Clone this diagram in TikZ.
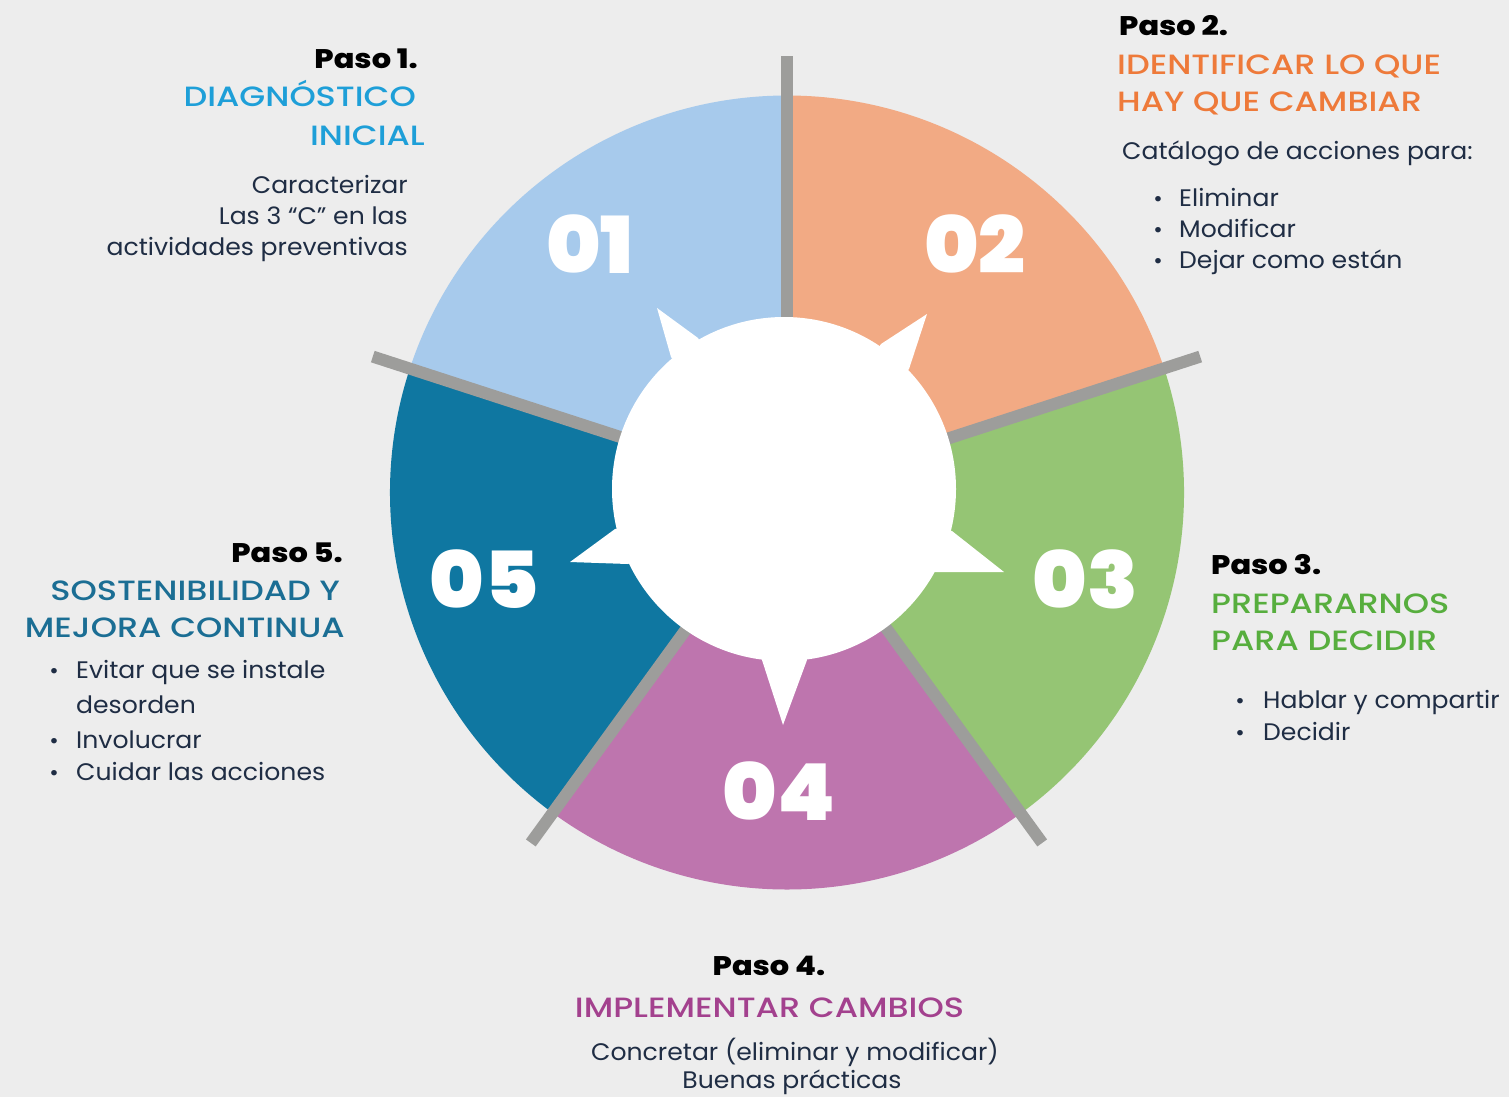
\documentclass[tikz,border=0pt]{standalone}
\usepackage{fontspec}
\setmainfont{Poppins}[FakeStretch=1.05]
\newfontfamily\numfont{Poppins}[UprightFont={* Black},FakeStretch=1.05]
\newfontfamily\pasofont{Poppins}[UprightFont={* ExtraBold},FakeStretch=1.13]
\newfontfamily\titlefont{Poppins}[UprightFont={* Medium},FakeStretch=1.2]
\usetikzlibrary{calc}
\definecolor{bgc}{HTML}{EDEDED}
\definecolor{s1}{HTML}{A7CAEC}
\definecolor{s2}{HTML}{F2AA84}
\definecolor{s3}{HTML}{95C574}
\definecolor{s4}{HTML}{BE75AE}
\definecolor{s5}{HTML}{0F77A1}
\definecolor{divc}{HTML}{9D9D9B}
\definecolor{t1}{HTML}{1E9FD8}
\definecolor{t2}{HTML}{EE7A3A}
\definecolor{t3}{HTML}{57AE3E}
\definecolor{t4}{HTML}{A3418E}
\definecolor{t5}{HTML}{1B6E94}
\definecolor{bodyc}{HTML}{1F2D44}
\begin{document}
\begin{tikzpicture}[x=1bp,y=-1bp,
  numtxt/.style={text=white,font=\numfont\fontsize{79}{79}\selectfont,inner sep=0pt,anchor=base},
  pasotxt/.style={text=black,font=\pasofont\fontsize{27}{27}\selectfont,inner sep=0pt},
  titletxt/.style={font=\titlefont\fontsize{28}{28}\selectfont,inner sep=0pt},
  bodytxt/.style={text=bodyc,font=\fontsize{24}{24}\selectfont,inner sep=0pt},
  bullettxt/.style={text=bodyc,font=\fontsize{22}{22}\selectfont,inner sep=0pt,anchor=base},
  divider/.style={draw=divc,line width=12bp}]
\fill[bgc] (0,0) rectangle (1509,1097);
\useasboundingbox (0,0) rectangle (1509,1097);
\coordinate (oc) at (787,492.5);
\coordinate (lc) at (786.5,491);
\coordinate (ic) at (784,489);
% sectors
\fill[s1] (oc) -- ($(oc)+(-90:397)$) arc[start angle=-90,end angle=-162,radius=397] -- cycle;
\fill[s2] (oc) -- ($(oc)+(-90:397)$) arc[start angle=-90,end angle=-18,radius=397] -- cycle;
\fill[s3] (oc) -- ($(oc)+(-18:397)$) arc[start angle=-18,end angle=54,radius=397] -- cycle;
\fill[s4] (oc) -- ($(oc)+(54:397)$) arc[start angle=54,end angle=126,radius=397] -- cycle;
\fill[s5] (oc) -- ($(oc)+(126:397)$) arc[start angle=126,end angle=198,radius=397] -- cycle;
% dividers
\foreach \a in {-90,-162,126,54,-18}{
  \draw[divider] (lc) -- ($(lc)+(\a:435)$);
}
% white hub with spikes
\fill[white] (ic) circle[radius=172];
\fill[white] (ic) -- (671,357) -- (657,308) -- (698,338) -- cycle;
\fill[white] (ic) -- (881,344) -- (927,314) -- (909,369) -- cycle;
\fill[white] (ic) -- (952,531) -- (1004,572) -- (935,572) -- cycle;
\fill[white] (ic) -- (807,660) -- (783,725) -- (762,660) -- cycle;
\fill[white] (ic) -- (628,564) -- (570,562) -- (615,529) -- cycle;
% numbers
\node[numtxt] (n1) at (590,273) {01};
\node[numtxt] (n2) at (975,273) {02};
\node[numtxt] (n3) at (1085.5,608) {03};
\node[numtxt] (n4) at (779,820) {04};
\node[numtxt] (n5) at (484,608) {05};
% step 1
\node[pasotxt,anchor=base east] (p1) at (418,68) {Paso 1.};
\node[titletxt,text=t1,anchor=base east] (t1a) at (416,106) {DIAGNÓSTICO};
\node[titletxt,text=t1,anchor=base east] (t1b) at (425,145) {INICIAL};
\node[bodytxt,anchor=base east] (b1a) at (408,193) {Caracterizar};
\node[bodytxt,anchor=base east] (b1b) at (408,224) {Las 3 “C” en las};
\node[bodytxt,anchor=base east] (b1c) at (408,255) {actividades preventivas};
% step 2
\node[pasotxt,anchor=base west] (p2) at (1119,35) {Paso 2.};
\node[titletxt,text=t2,anchor=base west] (t2a) at (1117,74) {IDENTIFICAR LO QUE};
\node[titletxt,text=t2,anchor=base west] (t2b) at (1117,111) {HAY QUE CAMBIAR};
\node[bodytxt,anchor=base west] (b2) at (1122,159) {Catálogo de acciones para:};
\node[bullettxt] (d2a) at (1158,206) {•};
\node[bullettxt] (d2b) at (1158,237) {•};
\node[bullettxt] (d2c) at (1158,268) {•};
\node[bodytxt,anchor=base west] (b2a) at (1179,206) {Eliminar};
\node[bodytxt,anchor=base west] (b2b) at (1179,237) {Modificar};
\node[bodytxt,anchor=base west] (b2c) at (1179,268) {Dejar como están};
% step 3
\node[pasotxt,anchor=base west] (p3) at (1211,574) {Paso 3.};
\node[titletxt,text=t3,anchor=base west] (t3a) at (1211,613) {PREPARARNOS};
\node[titletxt,text=t3,anchor=base west] (t3b) at (1211,650) {PARA DECIDIR};
\node[bullettxt] (d3a) at (1240,708) {•};
\node[bullettxt] (d3b) at (1240,740) {•};
\node[bodytxt,anchor=base west] (b3a) at (1263,708) {Hablar y compartir};
\node[bodytxt,anchor=base west] (b3b) at (1263,740) {Decidir};
% step 4
\node[pasotxt,anchor=base] (p4) at (769,975) {Paso 4.};
\node[titletxt,text=t4,anchor=base] (t4) at (769.5,1017) {IMPLEMENTAR CAMBIOS};
\node[bodytxt,anchor=base] (b4a) at (795,1060) {Concretar (eliminar y modificar)};
\node[bodytxt,anchor=base] (b4b) at (792,1088) {Buenas prácticas};
% step 5
\node[pasotxt,anchor=base east] (p5) at (343,562) {Paso 5.};
\node[titletxt,text=t5,anchor=base east] (t5a) at (340,600) {SOSTENIBILIDAD Y};
\node[titletxt,text=t5,anchor=base east] (t5b) at (345,637) {MEJORA CONTINUA};
\node[bullettxt] (d5a) at (54,678) {•};
\node[bullettxt] (d5b) at (54,748) {•};
\node[bullettxt] (d5c) at (54,780) {•};
\node[bodytxt,anchor=base west] (b5a) at (76,678) {Evitar que se instale};
\node[bodytxt,anchor=base west] (b5b) at (76,713) {desorden};
\node[bodytxt,anchor=base west] (b5c) at (76,748) {Involucrar};
\node[bodytxt,anchor=base west] (b5d) at (76,780) {Cuidar las acciones};
\end{tikzpicture}
\end{document}
